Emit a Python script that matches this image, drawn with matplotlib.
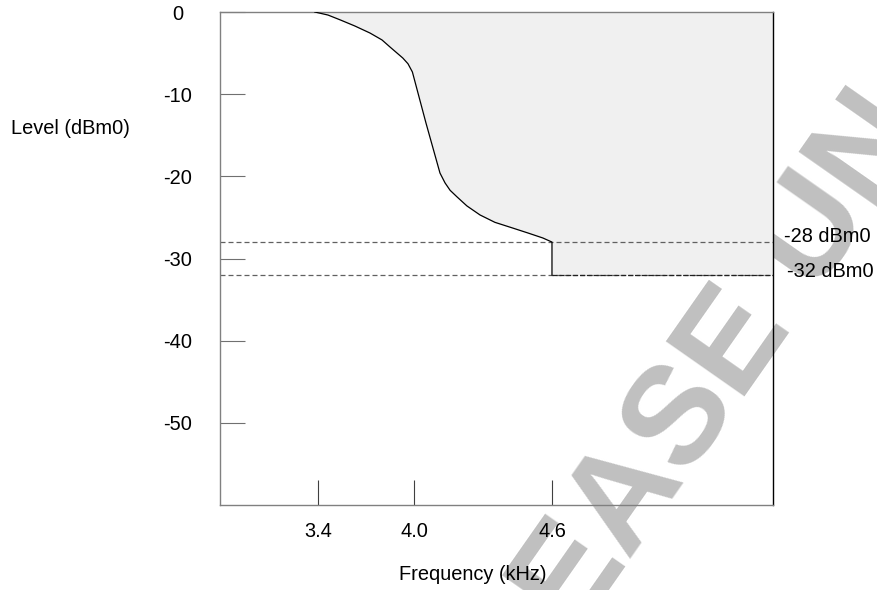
import numpy as np
import matplotlib
matplotlib.use('Agg')
import matplotlib.pyplot as plt

plt.rcParams['font.family'] = ['Liberation Sans', 'DejaVu Sans']

# mask curve (kHz, dBm0)
freq = [3.38, 3.4625, 3.54, 3.63, 3.725, 3.80, 3.85, 3.93, 3.9625, 3.99, 4.052, 4.113,
        4.135, 4.157, 4.187, 4.23, 4.287, 4.352, 4.43, 4.496, 4.56, 4.6]
level = [0, -0.37, -0.97, -1.7, -2.56, -3.4, -4.26, -5.6, -6.3, -7.3, -13.5, -19.6,
         -20.8, -21.7, -22.5, -23.6, -24.7, -25.6, -26.3, -26.9, -27.5, -28]
step_freq = 4.6
upper_limit = -28
lower_limit = -32

xticks = [3.4, 4.0, 4.6]
xtick_labels = ['3.4', '4.0', '4.6']
yticks = [0, -10, -20, -30, -40, -50]
ytick_labels = ['0', '-10', '-20', '-30', '-40', '-50']
limit_labels = ['-28 dBm0', '-32 dBm0']


# the drawing is not to scale: wider spacing above 4 kHz
def fwd(f):
    f = np.asarray(f, dtype=float)
    return np.where(f < 4.0, (f - 4.0) * 160.0, (f - 4.0) * 230.0)


def inv(p):
    p = np.asarray(p, dtype=float)
    return np.where(p < 0, p / 160.0 + 4.0, p / 230.0 + 4.0)


fig = plt.figure(figsize=(8.78, 5.90), dpi=100)
fig.patch.set_facecolor('white')
ax = fig.add_axes([220 / 878, 1 - 505 / 590, 553 / 878, 493 / 590])
ax.patch.set_alpha(0)
ax.set_xscale('function', functions=(fwd, inv))
x_left, x_right = 2.7875, 5.561
ax.set_xlim(x_left, x_right)
ax.set_ylim(-60, 0)

fx = freq + [step_freq, x_right]
fy = level + [lower_limit, lower_limit]
ax.fill_between(fx, fy, 0, color='#f0f0f0', lw=0, zorder=1)

ax.axhline(upper_limit, color='#606060', lw=0.9, dashes=(4, 2.4), zorder=2)
ax.axhline(lower_limit, color='#606060', lw=0.9, dashes=(4, 2.4), zorder=2)
ax.plot([step_freq, x_right], [lower_limit, lower_limit], color='#202020', lw=0.9,
        dashes=(4, 1.5), zorder=3)
ax.plot(freq + [step_freq], level + [lower_limit], color='black', lw=0.9, zorder=4)

ax.annotate(limit_labels[0], xy=(1, upper_limit), xycoords=('axes fraction', 'data'),
            xytext=(11, 6), textcoords='offset pixels', fontsize=14.4,
            ha='left', va='center')
ax.annotate(limit_labels[1], xy=(1, lower_limit), xycoords=('axes fraction', 'data'),
            xytext=(14, 3), textcoords='offset pixels', fontsize=14.4,
            ha='left', va='center')

ax.set_xticks(xticks, xtick_labels, va='center', fontsize=14.4)
ax.set_yticks(yticks, ytick_labels, ha='center', fontsize=14.4)
ax.tick_params(axis='x', direction='in', length=18, width=0.8, color='#404040', pad=19.4)
ax.tick_params(axis='y', direction='in', length=18, width=0.8, color='#707070', pad=30.6)
ax.minorticks_off()
ax.yaxis.get_major_ticks()[3].tick1line.set_color('black')

for side in ['top', 'left', 'bottom']:
    ax.spines[side].set_color('#808080')
    ax.spines[side].set_linewidth(1.0)
ax.spines['right'].set_color('black')
ax.spines['right'].set_linewidth(1.0)

fig.text(11 / 878, 1 - 128 / 590, 'Level (dBm0)', fontsize=14.4, ha='left', va='center')
fig.text(473 / 878, 1 - 575 / 590, 'Frequency (kHz)', fontsize=14.4, ha='center', va='center')

# watermark (runs off the page, as in the original)
fig.text(724 / 878, 1 - 364 / 590, 'EASE UN', fontsize=100, weight='bold', color='#c0c0c0',
         rotation=55, rotation_mode='anchor', ha='center', va='center', zorder=-1)

fig.savefig('out.png', dpi=100)
